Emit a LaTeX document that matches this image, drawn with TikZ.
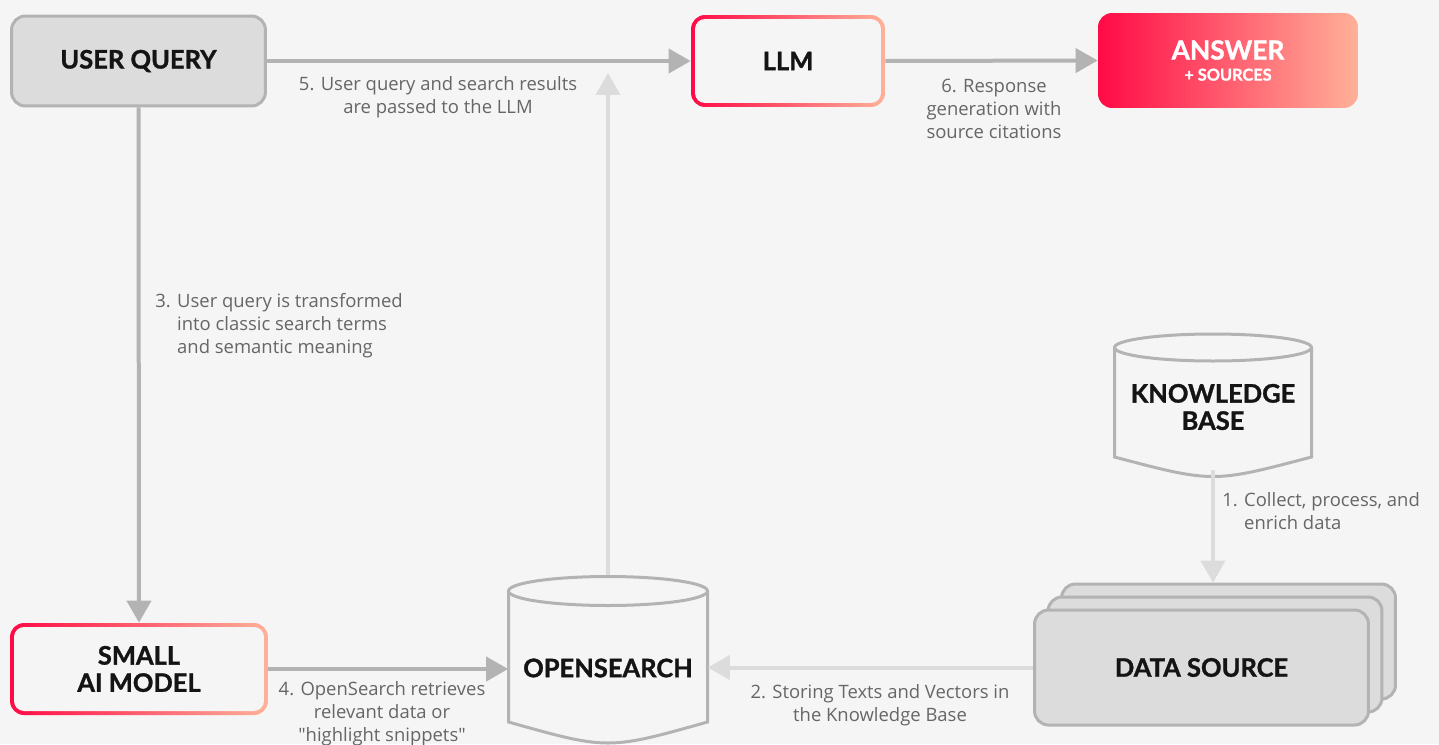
\documentclass[tikz,border=0pt]{standalone}
\usepackage{fontspec}
\setmainfont{Open Sans}[Ligatures=TeXOff]
\newfontfamily\titlefont{Lato}[BoldFeatures={FakeBold=1.2}]
\usetikzlibrary{arrows.meta}

\definecolor{bgcol}{HTML}{F5F5F5}
\definecolor{boxfill}{HTML}{DCDCDC}
\definecolor{boxline}{HTML}{B3B3B3}
\definecolor{pale}{HTML}{DCDCDC}
\definecolor{notegray}{HTML}{666666}
\definecolor{ink}{HTML}{141414}
\definecolor{hotred}{HTML}{FF0A45}
\definecolor{peach}{HTML}{FFB199}

\tikzset{
  title/.style={font=\titlefont\bfseries\fontsize{14.5}{15.5}\selectfont, text=ink, align=center},
  graybox/.style={title, draw=boxline, line width=0.06cm, fill=boxfill, rounded corners=0.28cm},
  gradbox/.style={title, rounded corners=0.28cm, left color=hotred, right color=peach,
    path picture={\fill[bgcol, rounded corners=0.2cm]
      ([shift={(0.08cm,0.08cm)}]path picture bounding box.south west) rectangle
      ([shift={(-0.08cm,-0.08cm)}]path picture bounding box.north east);}},
  drum/.style={draw=boxline, line width=0.06cm, fill=bgcol},
  note/.style={font=\fontsize{10.5}{13}\selectfont, text=notegray, align=center, inner sep=0pt},
  darkarrow/.style={draw=boxline, line width=0.08cm, -{Triangle[length=0.44cm, width=0.48cm]}},
  palearrow/.style={draw=pale, line width=0.08cm, -{Triangle[length=0.44cm, width=0.48cm]}}
}

\begin{document}
\begin{tikzpicture}[x=0.02cm, y=-0.02cm]
\useasboundingbox (0,0) rectangle (1439,744);
\fill[bgcol] (0,0) rectangle (1439,744);
%
% drums for the two stores
\draw[drum] (1114.5,347.5) -- (1114.5,457) .. controls (1213,483) .. (1311.5,457) -- (1311.5,347.5);
\draw[drum] (1213,347.5) ellipse [x radius=1.97cm, y radius=0.27cm];
\draw[drum] (508.5,591) -- (508.5,722) .. controls (608,750) .. (707.5,722) -- (707.5,591);
\draw[drum] (608,591) ellipse [x radius=1.99cm, y radius=0.29cm];
%
\node[graybox, minimum width=5.08cm, minimum height=1.80cm] (query) at (138.5,61) {USER QUERY};
\node[gradbox, minimum width=3.88cm, minimum height=1.84cm] (llm) at (788,61) {LLM};
\node[gradbox, minimum width=5.16cm, minimum height=1.84cm] (small) at (139,669) {SMALL\\AI MODEL};
\node[rounded corners=0.28cm, left color=hotred, right color=peach, text=white, align=center,
      font=\titlefont\bfseries, minimum width=5.2cm, minimum height=1.9cm] (answer) at (1228,60.5)
  {{\fontsize{15}{16}\selectfont ANSWER}\\[0pt]{\fontsize{9.3}{10}\selectfont + SOURCES}};
%
\node[title, minimum width=3.94cm, minimum height=2.52cm] (kb) at (1213,407) {KNOWLEDGE\\BASE};
\node[title, minimum width=3.98cm, minimum height=3.72cm] (search) at (608,668) {OPENSEARCH};
%
\node[graybox, minimum width=6.68cm, minimum height=2.30cm] (source3) at (1228.5,641.5) {};
\node[graybox, minimum width=6.68cm, minimum height=2.30cm] (source2) at (1215,654.5) {};
\node[graybox, minimum width=6.68cm, minimum height=2.30cm] (source) at (1201.5,667.5) {DATA SOURCE};
%
\coordinate (join) at (608,73);
%
\draw[palearrow] (kb.south) -- (kb.south |- source3.north);
\draw[palearrow] (source.west) -- (source.west -| search.east);
\draw[palearrow] (search.north) -- (join);
\draw[darkarrow] (query.south) -- (small.north);
\draw[darkarrow] (small.east) -- (small.east -| search.west);
\draw[darkarrow] (query.east) -- (llm.west);
\draw[darkarrow] (llm.east) -- (answer.west);
%
\node[note, anchor=west] (n1) at (1222,513.5)
  {\begin{tabular}{@{}l@{ }l@{}}1. & Collect, process, and\\ & enrich data\end{tabular}};
\node[note] (n2) at (880,705.5) {2. Storing Texts and Vectors in\\the Knowledge Base};
\node[note, anchor=west] (n3) at (155,326)
  {\begin{tabular}{@{}l@{ }l@{}}3. & User query is transformed\\ & into classic search terms\\ & and semantic meaning\end{tabular}};
\node[note] (n4) at (382,714) {4. OpenSearch retrieves\\relevant data or\\"highlight snippets"};
\node[note] (n5) at (438,97.5) {5. User query and search results\\are passed to the LLM};
\node[note] (n6) at (994,109) {6. Response\\generation with\\source citations};
\end{tikzpicture}
\end{document}
